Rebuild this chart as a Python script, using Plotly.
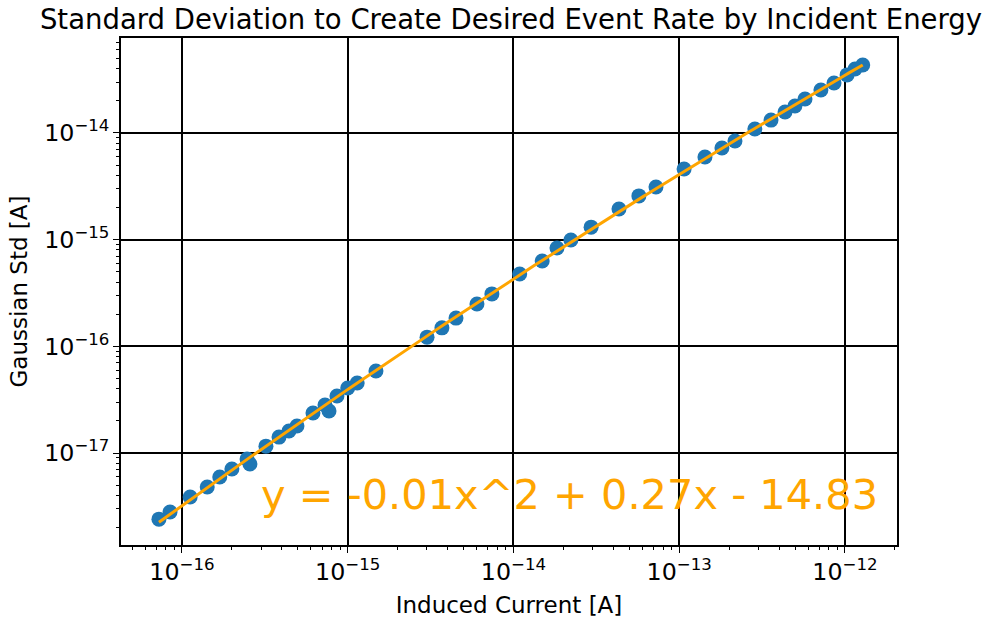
import numpy as np
import plotly.graph_objects as go

# Data (induced current [A], gaussian std [A])
induced_current = [7.26e-17, 8.47e-17, 1.12e-16, 1.42e-16, 1.69e-16, 2.00e-16, 2.47e-16, 2.57e-16,
                   3.21e-16, 3.85e-16, 4.42e-16, 4.94e-16, 6.17e-16, 7.29e-16, 7.71e-16, 8.61e-16,
                   1.00e-15, 1.14e-15, 1.48e-15, 3.01e-15, 3.70e-15, 4.50e-15, 6.02e-15, 7.41e-15,
                   1.09e-14, 1.49e-14, 1.83e-14, 2.22e-14, 2.94e-14, 4.33e-14, 5.71e-14, 7.24e-14,
                   1.07e-13, 1.43e-13, 1.81e-13, 2.17e-13, 2.86e-13, 3.58e-13, 4.35e-13, 4.99e-13,
                   5.74e-13, 7.16e-13, 8.59e-13, 1.03e-12, 1.15e-12, 1.28e-12]
gaussian_std = [2.40e-18, 2.80e-18, 3.87e-18, 4.80e-18, 5.96e-18, 7.08e-18, 8.79e-18, 7.89e-18,
                1.16e-17, 1.41e-17, 1.61e-17, 1.79e-17, 2.37e-17, 2.82e-17, 2.48e-17, 3.42e-17,
                4.07e-17, 4.53e-17, 5.87e-17, 1.22e-16, 1.49e-16, 1.84e-16, 2.49e-16, 3.10e-16,
                4.77e-16, 6.31e-16, 8.35e-16, 9.93e-16, 1.31e-15, 1.94e-15, 2.57e-15, 3.12e-15,
                4.60e-15, 5.96e-15, 7.23e-15, 8.41e-15, 1.09e-14, 1.32e-14, 1.57e-14, 1.79e-14,
                2.08e-14, 2.53e-14, 2.94e-14, 3.50e-14, 3.98e-14, 4.34e-14]

title_text = "Standard Deviation to Create Desired Event Rate by Incident Energy"
x_label = "Induced Current [A]"
y_label = "Gaussian Std [A]"
fit_label = "y = -0.01x^2 + 0.27x - 14.83"

# quadratic fit in log-log space
lx = np.log10(induced_current)
ly = np.log10(gaussian_std)
coef = np.polyfit(lx, ly, 2)
fit_x = np.linspace(lx.min(), lx.max(), 200)
fit_y = np.polyval(coef, fit_x)

FONT = "DejaVu Sans"

fig = go.Figure()
fig.add_trace(go.Scatter(x=induced_current, y=gaussian_std, mode="markers",
                         marker=dict(color="#1f77b4", size=15, line=dict(width=0)),
                         showlegend=False))
fig.add_trace(go.Scatter(x=10 ** fit_x, y=10 ** fit_y, mode="lines",
                         line=dict(color="orange", width=3), showlegend=False))

axis_common = dict(
    type="log", dtick=1, exponentformat="power", showexponent="all",
    showline=True, linecolor="black", linewidth=1.5, mirror=True,
    showgrid=True, gridcolor="black", gridwidth=1.5,
    ticks="outside", ticklen=6, tickwidth=1.3, tickcolor="black",
    tickfont=dict(family=FONT, size=19, color="black"),
    zeroline=False, automargin=False,
    minor=dict(ticks="outside", ticklen=3.5, tickwidth=1, tickcolor="black", showgrid=False),
)

fig.update_xaxes(**axis_common, range=[-16.368, -11.686],
                 title=dict(text=x_label, font=dict(family=FONT, size=23, color="black"), standoff=12))
fig.update_yaxes(**axis_common, range=[-17.862, -13.11],
                 title=dict(text=y_label, font=dict(family=FONT, size=23, color="black"), standoff=10))

fig.add_annotation(text=fit_label, xref="paper", yref="paper", x=1.0 - (897 - 880) / 776,
                   y=(545 - 495) / 507, xanchor="right", yanchor="middle", showarrow=False,
                   font=dict(family=FONT, size=41.5, color="orange"))

fig.update_layout(
    width=989, height=621,
    margin=dict(l=121, r=92, t=38, b=76),
    paper_bgcolor="white", plot_bgcolor="white",
    title=dict(text=title_text, x=511 / 989, xanchor="center", y=1 - 19 / 621, yanchor="middle",
               font=dict(family=FONT, size=27.5, color="black")),
)

fig.write_html("out.html")
